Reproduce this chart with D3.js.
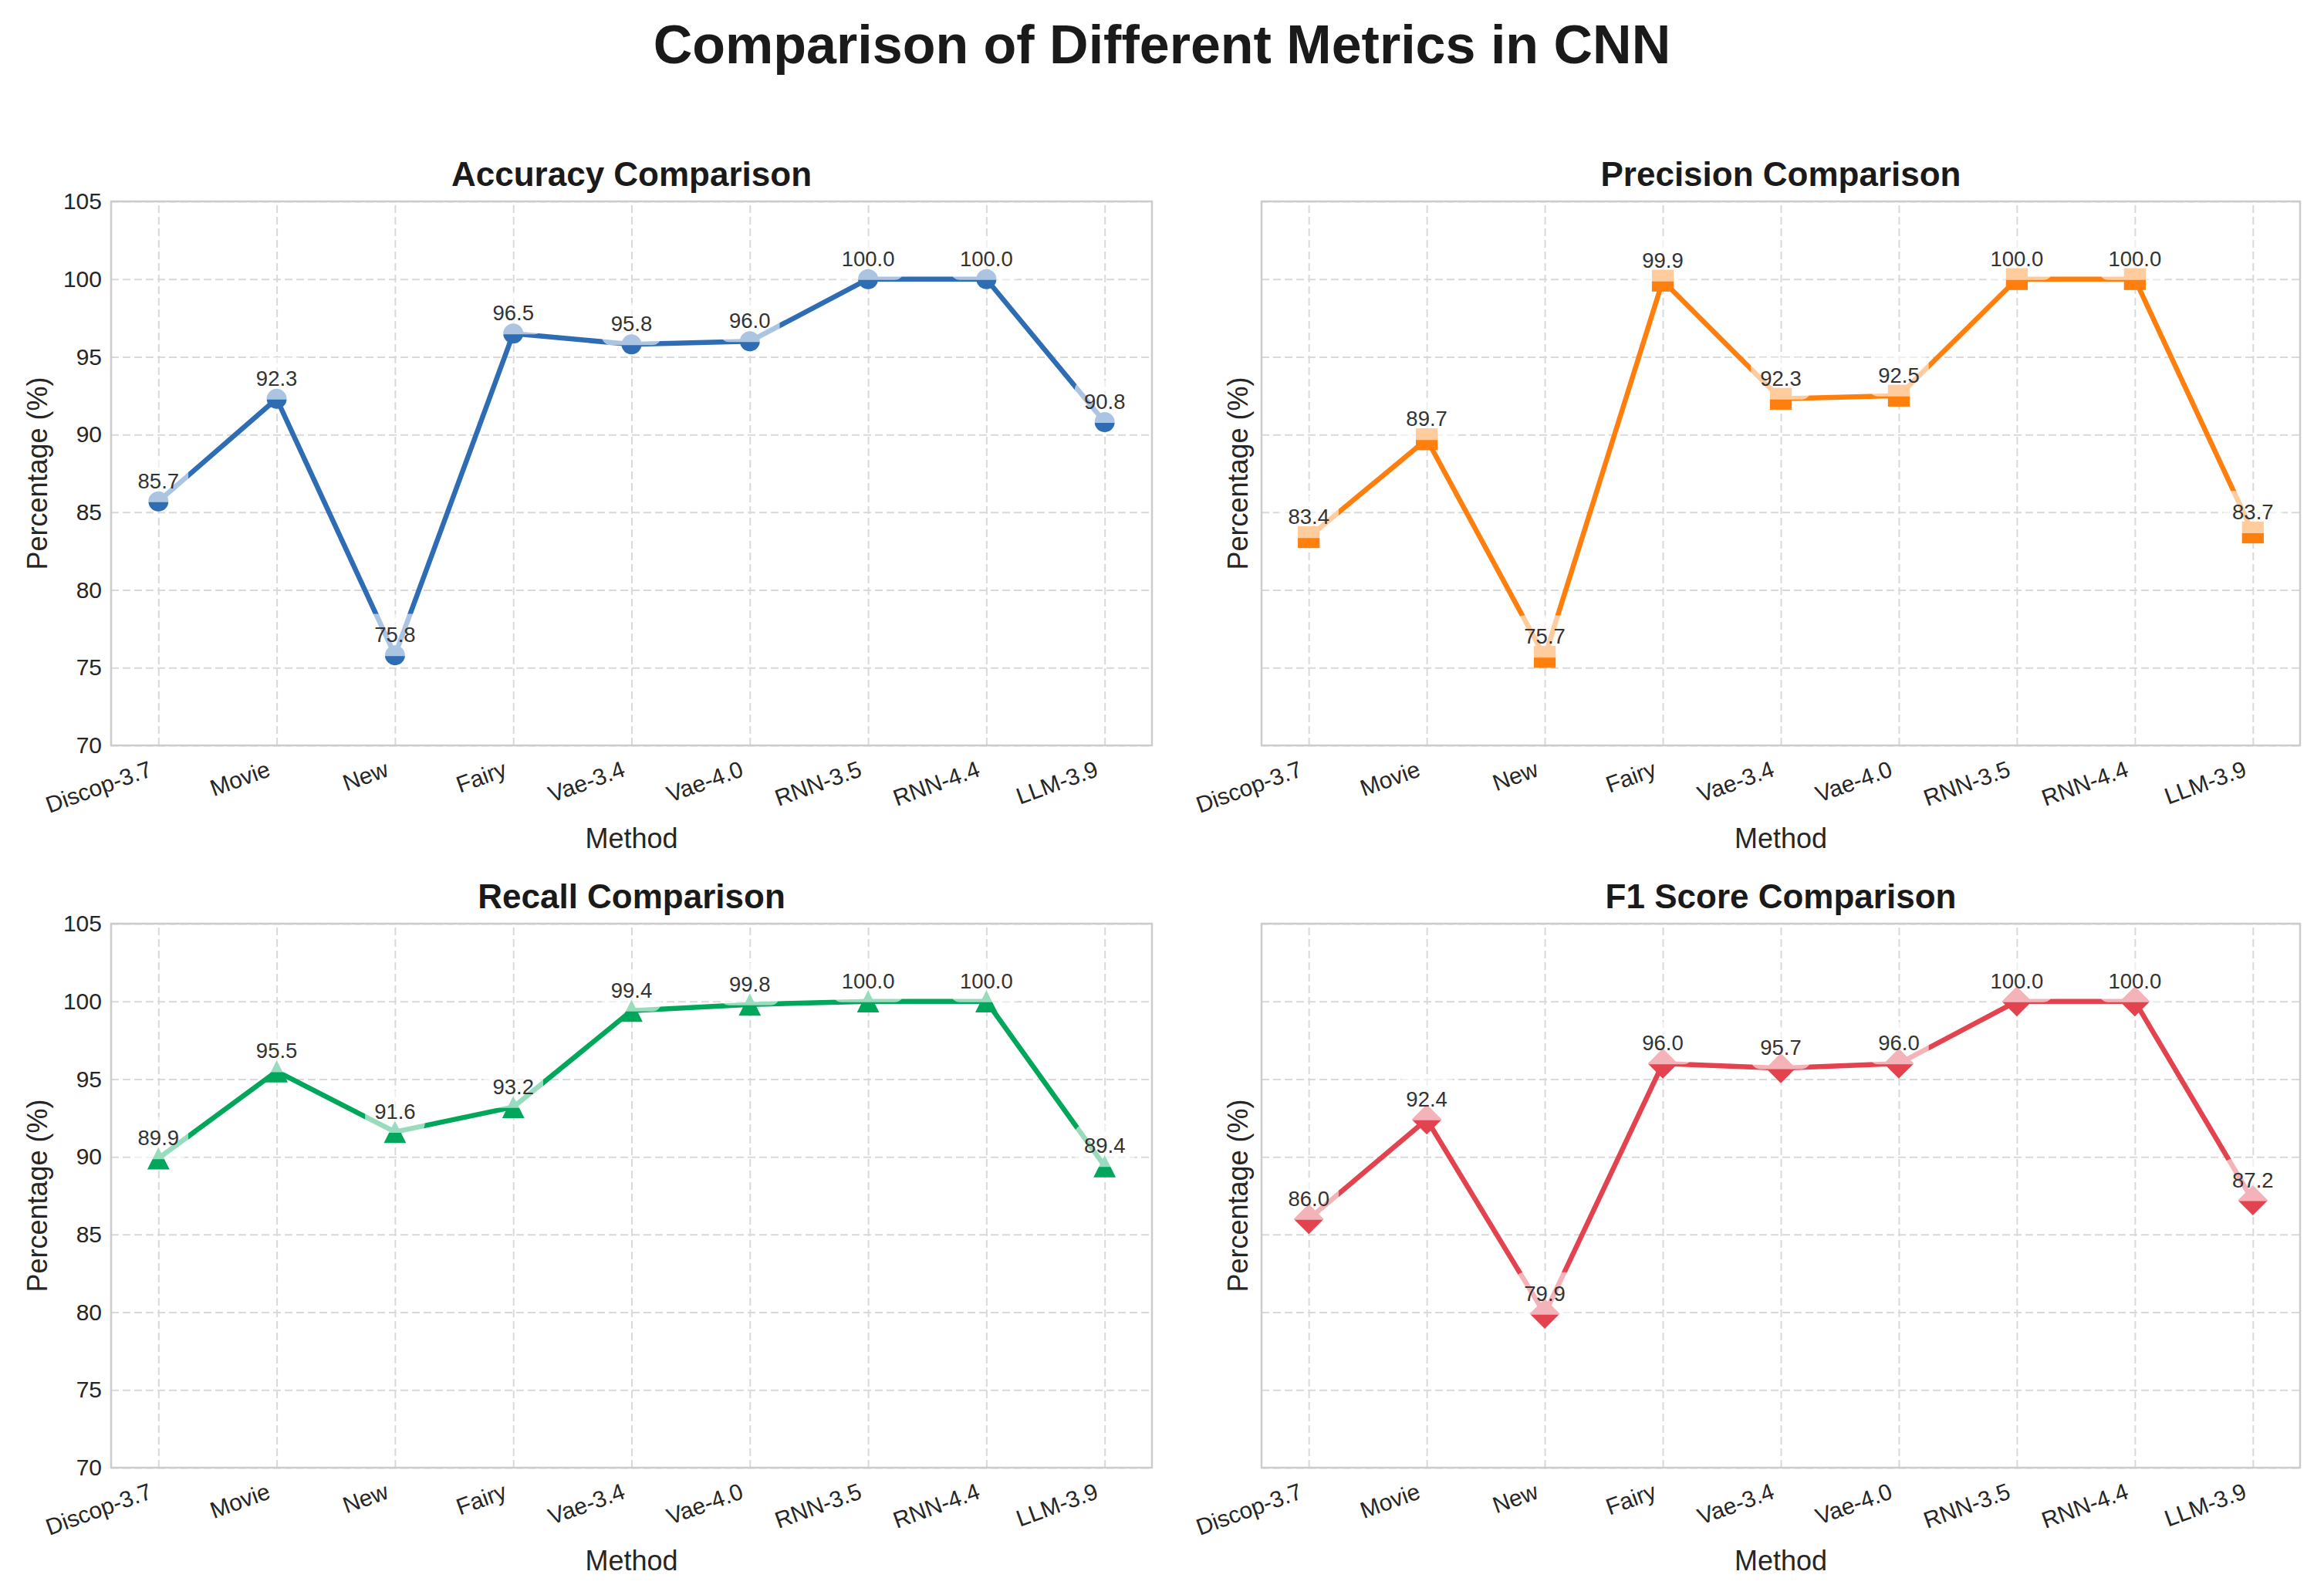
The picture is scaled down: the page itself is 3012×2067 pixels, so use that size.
<!DOCTYPE html>
<html>
<head>
<meta charset="utf-8">
<script src="https://cdn.jsdelivr.net/npm/d3@7"></script>
<style>
  body { margin: 0; background: #fff; }
  svg { display: block; font-family: "Liberation Sans", Arial, Helvetica, sans-serif; }
</style>
</head>
<body>
<svg id="chart"></svg>
<script>
// Section for Data
var methods = ["Discop-3.7", "Movie", "New", "Fairy", "Vae-3.4", "Vae-4.0", "RNN-3.5", "RNN-4.4", "LLM-3.9"];
var accuracy = [85.7, 92.3, 75.8, 96.5, 95.8, 96.0, 100.0, 100.0, 90.8];
var precision = [83.4, 89.7, 75.7, 99.9, 92.3, 92.5, 100.0, 100.0, 83.7];
var recall = [89.9, 95.5, 91.6, 93.2, 99.4, 99.8, 100.0, 100.0, 89.4];
var f1 = [86.0, 92.4, 79.9, 96.0, 95.7, 96.0, 100.0, 100.0, 87.2];
var metricNames = ["Accuracy", "Precision", "Recall", "F1 Score"];
var yTicks = [70, 75, 80, 85, 90, 95, 100, 105];
var yDomain = [70, 105];

// Section for layout
var svgWidth = 3012;
var svgHeight = 2067;
var cols = [{ l: 144, r: 1493 }, { l: 1635, r: 2981 }];
var rows = [{ t: 261, b: 966 }, { t: 1197, b: 1902 }];
var textColor = "#262626";

// matplotlib style triangle: as wide as it is tall
var triangleUp = {
    draw: function (ctx, size) {
        var h = Math.sqrt(size) / 2;
        ctx.moveTo(0, -h);
        ctx.lineTo(h, h);
        ctx.lineTo(-h, h);
        ctx.closePath();
    }
};

var panels = [
    { name: metricNames[0], values: accuracy, color: "#2e6db4", symbol: d3.symbolCircle, size: 530, rot: 0, row: 0, col: 0 },
    { name: metricNames[1], values: precision, color: "#ff7f0e", symbol: d3.symbolSquare, size: 800, rot: 0, row: 0, col: 1 },
    { name: metricNames[2], values: recall, color: "#00a65a", symbol: triangleUp, size: 830, rot: 0, row: 1, col: 0 },
    { name: metricNames[3], values: f1, color: "#e2434f", symbol: d3.symbolSquare, size: 760, rot: 45, row: 1, col: 1 }
];

var svg = d3.select("#chart")
    .attr("width", svgWidth)
    .attr("height", svgHeight);

svg.append("rect")
    .attr("width", svgWidth)
    .attr("height", svgHeight)
    .attr("fill", "#fff");

// Main title
svg.append("text")
    .attr("x", 1506)
    .attr("y", 82)
    .attr("text-anchor", "middle")
    .attr("font-size", 70)
    .attr("font-weight", "bold")
    .attr("fill", "#1a1a1a")
    .text("Comparison of Different Metrics in CNN");

panels.forEach(function (p) {
    var c = cols[p.col], r = rows[p.row];

    var x = d3.scalePoint()
        .domain(methods)
        .range([c.l, c.r])
        .padding(0.4);

    var y = d3.scaleLinear()
        .domain(yDomain)
        .range([r.b, r.t]);

    var g = svg.append("g").attr("class", "panel");

    // grid lines
    var gx = g.append("g")
        .attr("transform", "translate(0," + r.b + ")")
        .call(d3.axisBottom(x).tickSize(-(r.b - r.t)).tickFormat(""));
    var gy = g.append("g")
        .attr("transform", "translate(" + c.l + ",0)")
        .call(d3.axisLeft(y).tickValues(yTicks).tickSize(-(c.r - c.l)).tickFormat(""));
    [gx, gy].forEach(function (a) {
        a.select(".domain").remove();
        a.selectAll("line")
            .attr("stroke", "#d9d9d9")
            .attr("stroke-width", 2)
            .attr("stroke-dasharray", "10,5");
    });

    // frame
    g.append("rect")
        .attr("x", c.l)
        .attr("y", r.t)
        .attr("width", c.r - c.l)
        .attr("height", r.b - r.t)
        .attr("fill", "none")
        .attr("stroke", "#cccccc")
        .attr("stroke-width", 2.5);

    // x tick labels, rotated
    var xAxis = g.append("g")
        .attr("transform", "translate(0," + r.b + ")")
        .call(d3.axisBottom(x).tickSize(0).tickPadding(0));
    xAxis.select(".domain").remove();
    xAxis.selectAll("text")
        .attr("y", 0)
        .attr("dy", null)
        .attr("text-anchor", "end")
        .attr("transform", "translate(-7,39) rotate(-20)")
        .attr("font-size", 30)
        .attr("font-family", null)
        .attr("fill", textColor);

    // y tick labels only on left column
    if (p.col === 0) {
        var yAxis = g.append("g")
            .attr("transform", "translate(" + c.l + ",0)")
            .call(d3.axisLeft(y).tickValues(yTicks).tickSize(0).tickPadding(12));
        yAxis.select(".domain").remove();
        yAxis.selectAll("text")
            .attr("font-size", 30)
            .attr("font-family", null)
            .attr("fill", textColor);
    }

    // axis labels
    g.append("text")
        .attr("x", (c.l + c.r) / 2)
        .attr("y", r.b + 133)
        .attr("text-anchor", "middle")
        .attr("font-size", 36)
        .attr("fill", textColor)
        .text("Method");

    var ylx = p.col === 0 ? c.l - 96 : c.l - 31;
    g.append("text")
        .attr("transform", "translate(" + ylx + "," + ((r.t + r.b) / 2) + ") rotate(-90)")
        .attr("text-anchor", "middle")
        .attr("dy", "0.35em")
        .attr("font-size", 36)
        .attr("fill", textColor)
        .text("Percentage (%)");

    // subplot title
    g.append("text")
        .attr("x", (c.l + c.r) / 2)
        .attr("y", r.t - 20)
        .attr("text-anchor", "middle")
        .attr("font-size", 44)
        .attr("font-weight", "bold")
        .attr("fill", "#1a1a1a")
        .text(p.name + " Comparison");

    // line
    var line = d3.line()
        .x(function (d, i) { return x(methods[i]); })
        .y(function (d) { return y(d); });

    g.append("path")
        .datum(p.values)
        .attr("d", line)
        .attr("fill", "none")
        .attr("stroke", p.color)
        .attr("stroke-width", 6.5)
        .attr("stroke-linejoin", "round");

    // markers
    g.selectAll(".marker")
        .data(p.values)
        .enter().append("path")
        .attr("class", "marker")
        .attr("d", d3.symbol().type(p.symbol).size(p.size))
        .attr("transform", function (d, i) {
            return "translate(" + x(methods[i]) + "," + y(d) + ") rotate(" + p.rot + ")";
        })
        .attr("fill", p.color);

    // value labels with a translucent white box behind them
    var fs = 27.5, pad = 12;
    p.values.forEach(function (d, i) {
        var px = x(methods[i]), py = y(d) - 17;
        var box = g.append("rect");
        var t = g.append("text")
            .attr("x", px)
            .attr("y", py)
            .attr("text-anchor", "middle")
            .attr("font-size", fs)
            .attr("fill", "#333")
            .text(d.toFixed(1));
        var w = t.node().getComputedTextLength();
        box.attr("x", px - w / 2 - pad)
            .attr("y", py - fs * 0.9 - pad)
            .attr("width", w + 2 * pad)
            .attr("height", fs * 1.12 + 2 * pad)
            .attr("rx", pad)
            .attr("fill", "#fff")
            .attr("fill-opacity", 0.6);
    });
});
</script>
</body>
</html>
